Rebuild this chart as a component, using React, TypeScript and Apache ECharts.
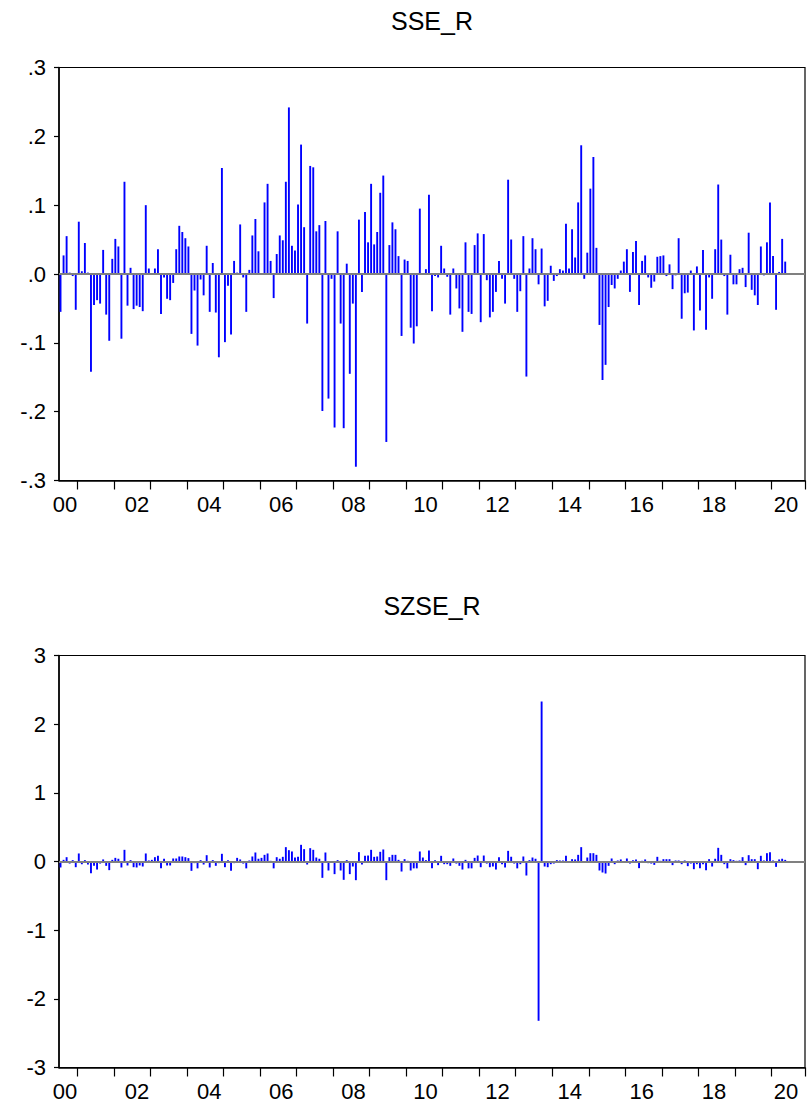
import React, { useEffect, useRef } from "react";
import * as echarts from "echarts";

// Monthly returns, Feb 2000 .. Dec 2019 (index 1 = Feb 2000); axis spans 2000M01..2020M06
const sseR = [
  -0.055, 0.027, 0.055, 0.002, -0.003, -0.052, 0.076, 0.004, 0.045, 0.002,
  -0.142, -0.045, -0.038, -0.043, 0.035, -0.059, -0.097, 0.022, 0.051, 0.040,
  -0.094, 0.134, -0.046, 0.009, -0.051, -0.046, -0.048, -0.054, 0.100, 0.008,
  0.001, 0.008, 0.036, -0.058, -0.005, -0.036, -0.038, -0.013, 0.036, 0.070,
  0.061, 0.052, 0.040, -0.087, -0.024, -0.104, -0.008, -0.031, 0.041, -0.055,
  0.016, -0.056, -0.121, 0.154, -0.099, -0.017, -0.088, 0.019, 0.002, 0.072,
  -0.005, -0.055, 0.006, 0.056, 0.080, 0.033, 0.001, 0.104, 0.131, 0.019,
  -0.035, 0.029, 0.056, 0.049, 0.134, 0.242, 0.041, 0.034, 0.101, 0.188,
  0.068, -0.072, 0.157, 0.155, 0.062, 0.071, -0.199, 0.077, -0.181, -0.007,
  -0.223, 0.062, -0.072, -0.224, 0.015, -0.145, -0.043, -0.280, 0.079, -0.026,
  0.090, 0.046, 0.131, 0.043, 0.061, 0.118, 0.143, -0.244, 0.042, 0.075,
  0.065, 0.026, -0.090, 0.021, 0.019, -0.078, -0.101, -0.076, 0.095, 0.001,
  0.007, 0.115, -0.054, -0.003, -0.005, 0.041, 0.008, -0.004, -0.059, 0.008,
  -0.021, -0.050, -0.084, 0.046, -0.055, -0.058, 0.042, 0.059, -0.070, 0.058,
  -0.009, -0.063, -0.055, -0.026, 0.019, -0.007, -0.043, 0.137, 0.050, -0.007,
  -0.055, -0.025, 0.055, -0.149, 0.008, 0.052, 0.036, -0.015, 0.037, -0.047,
  -0.039, 0.012, -0.010, -0.003, 0.007, 0.005, 0.073, 0.008, 0.065, 0.024,
  0.104, 0.187, -0.007, 0.031, 0.124, 0.170, 0.038, -0.074, -0.154, -0.132,
  -0.048, -0.016, -0.021, -0.007, 0.005, 0.018, 0.036, -0.026, 0.032, 0.048,
  -0.045, 0.019, 0.027, -0.005, -0.020, -0.011, 0.025, 0.026, 0.027, -0.003,
  0.014, -0.022, -0.002, 0.052, -0.065, -0.028, -0.027, 0.005, -0.082, 0.011,
  -0.053, 0.035, -0.081, -0.005, -0.036, 0.036, 0.130, 0.050, -0.003, -0.059,
  0.028, -0.015, -0.015, 0.007, 0.009, -0.019, 0.060, -0.023, -0.031, -0.045,
  0.040, -0.002, 0.046, 0.104, 0.026, -0.052, 0.003, 0.051, 0.018,
];

const szseR = [
  -0.087, 0.024, 0.063, -0.030, 0.020, -0.083, 0.117, -0.040, 0.020, -0.044,
  -0.170, -0.063, -0.117, -0.030, 0.030, -0.063, -0.126, 0.024, 0.053, 0.040,
  -0.087, 0.170, -0.058, 0.020, -0.083, -0.087, -0.058, -0.073, 0.117, 0.015,
  0.024, 0.063, 0.083, -0.100, 0.040, -0.058, -0.058, 0.044, 0.044, 0.073,
  0.073, 0.063, 0.049, -0.136, -0.024, -0.100, 0.020, -0.044, 0.092, -0.087,
  0.020, -0.063, -0.024, 0.112, -0.083, 0.020, -0.136, -0.024, 0.053, 0.030,
  -0.030, -0.100, 0.015, 0.073, 0.131, 0.040, 0.053, 0.097, 0.117, 0.010,
  -0.100, 0.063, 0.040, 0.068, 0.209, 0.165, 0.146, 0.058, 0.068, 0.243,
  0.180, -0.044, 0.194, 0.170, 0.058, 0.040, -0.238, 0.131, -0.131, -0.010,
  -0.184, 0.020, -0.131, -0.267, 0.020, -0.184, -0.073, -0.272, 0.136, -0.044,
  0.083, 0.087, 0.170, 0.068, 0.073, 0.141, 0.175, -0.272, 0.063, 0.097,
  0.097, 0.024, -0.146, 0.034, 0.010, -0.131, -0.100, -0.100, 0.146, 0.058,
  0.020, 0.160, -0.097, 0.020, -0.053, 0.083, -0.039, -0.039, -0.063, 0.044,
  -0.030, -0.063, -0.117, 0.024, -0.100, -0.100, 0.053, 0.087, -0.083, 0.087,
  -0.030, -0.083, -0.073, -0.117, 0.063, -0.039, -0.087, 0.155, 0.068, -0.030,
  -0.100, -0.039, 0.073, -0.204, 0.020, 0.058, 0.040, -2.320, 2.330, -0.073,
  -0.083, -0.039, -0.030, 0.020, 0.015, 0.015, 0.083, -0.020, 0.034, 0.030,
  0.097, 0.209, -0.015, 0.058, 0.121, 0.121, 0.097, -0.131, -0.160, -0.175,
  -0.063, 0.044, -0.039, 0.015, 0.030, -0.020, 0.044, -0.030, 0.020, 0.030,
  -0.097, 0.010, 0.030, -0.024, -0.030, -0.049, 0.068, 0.010, 0.034, 0.034,
  0.034, -0.053, 0.015, 0.015, -0.039, 0.015, -0.068, -0.030, -0.112, -0.039,
  -0.097, -0.039, -0.126, 0.034, -0.073, 0.040, 0.199, 0.097, -0.039, -0.100,
  0.034, 0.020, 0.010, 0.015, 0.063, -0.053, 0.092, 0.034, 0.034, -0.112,
  0.083, 0.015, 0.121, 0.136, 0.015, -0.078, 0.030, 0.040, 0.024,
];

const yearLabels = ["00", "02", "04", "06", "08", "10", "12", "14", "16", "18", "20"];
const sseTicks = [-0.3, -0.2, -0.1, 0, 0.1, 0.2, 0.3];
const szseTicks = [-3, -2, -1, 0, 1, 2, 3];
const titles = ["SSE_R", "SZSE_R"];

const FONT = "'Liberation Sans Narrow', 'Liberation Sans', Arial, sans-serif";

export default function App() {
  const ref = useRef<HTMLDivElement>(null);
  useEffect(() => {
    document.body.style.margin = "0";
    const chart = echarts.init(ref.current as HTMLDivElement, null, { renderer: "svg" });

    const plotLeft = 59;
    const plotWidth = 746;
    const xMin = 0.5;
    const xMax = 245.5;
    const pxPerMonth = plotWidth / (xMax - xMin);
    const tickVals: number[] = [];
    for (let k = 0; k < 20; k++) tickVals.push(6.5 + 12 * k);
    tickVals.push(xMax);
    const labelVals = yearLabels.map((_, k) => (65 + 72.1 * k - plotLeft) / pxPerMonth + xMin);
    const labelMap = new Map<number, string>();
    labelVals.forEach((v, k) => labelMap.set(Math.round(v * 1000), yearLabels[k]));

    const grids = [
      { left: plotLeft, top: 67.5, width: plotWidth, height: 413 },
      { left: plotLeft, top: 655.5, width: plotWidth, height: 412 },
    ];

    const xAxisBase = (gi: number) => ({
      type: "value",
      gridIndex: gi,
      min: xMin,
      max: xMax,
      splitLine: { show: false },
      axisLine: { show: true, onZero: false, lineStyle: { color: "#000", width: 1.5 } },
      axisTick: {
        show: true,
        inside: false,
        length: 9,
        customValues: tickVals,
        lineStyle: { color: "#000", width: 1.2 },
      },
      axisLabel: {
        show: true,
        customValues: labelVals,
        margin: 13,
        color: "#000",
        fontSize: 22,
        fontFamily: FONT,
        formatter: (v: number) => labelMap.get(Math.round(v * 1000)) ?? "",
      },
    });

    const yAxisBase = (gi: number, ticks: number[], fmt: (v: number) => string) => ({
      type: "value",
      gridIndex: gi,
      min: ticks[0],
      max: ticks[ticks.length - 1],
      interval: ticks[1] - ticks[0],
      splitLine: { show: false },
      axisLine: { show: true, onZero: false, lineStyle: { color: "#000", width: 1.5 } },
      axisTick: { show: true, inside: false, length: 5, lineStyle: { color: "#000", width: 1.2 } },
      axisLabel: {
        show: true,
        margin: 13,
        color: "#000",
        fontSize: 22,
        fontFamily: FONT,
        formatter: fmt,
      },
    });

    const fmtSse = (v: number) => {
      const s = (Math.round(v * 10) / 10).toFixed(1);
      if (s === "0.0" || s === "-0.0") return ".0";
      return s.replace("0.", ".");
    };
    const fmtSzse = (v: number) => String(Math.round(v));

    const zeroLine = {
      silent: true,
      symbol: "none",
      label: { show: false },
      lineStyle: { color: "#808080", width: 2, type: "solid" },
      data: [{ yAxis: 0 }],
    };

    const barSeries = (gi: number, vals: number[], name: string) => ({
      type: "bar",
      name,
      xAxisIndex: gi,
      yAxisIndex: gi,
      barWidth: 1.9,
      itemStyle: { color: "#0000ff" },
      data: vals.map((v, i) => [i + 1, v]),
      markLine: zeroLine,
    });

    chart.setOption({
      animation: false,
      backgroundColor: "#fff",
      grid: grids.map((g) => ({ ...g, show: true, borderColor: "#000", borderWidth: 1.2, containLabel: false })),
      xAxis: [xAxisBase(0), xAxisBase(1)],
      yAxis: [yAxisBase(0, sseTicks, fmtSse), yAxisBase(1, szseTicks, fmtSzse)],
      series: [barSeries(0, sseR, titles[0]), barSeries(1, szseR, titles[1])],
      graphic: [
        {
          type: "text",
          x: plotLeft + plotWidth / 2,
          y: 21,
          style: { text: titles[0], textAlign: "center", textVerticalAlign: "middle", fontSize: 25, fontFamily: FONT, fill: "#000" },
        },
        {
          type: "text",
          x: plotLeft + plotWidth / 2,
          y: 606,
          style: { text: titles[1], textAlign: "center", textVerticalAlign: "middle", fontSize: 25, fontFamily: FONT, fill: "#000" },
        },
      ],
    });
    return () => chart.dispose();
  }, []);
  return <div ref={ref} style={{ width: 808, height: 1109 }} />;
}
